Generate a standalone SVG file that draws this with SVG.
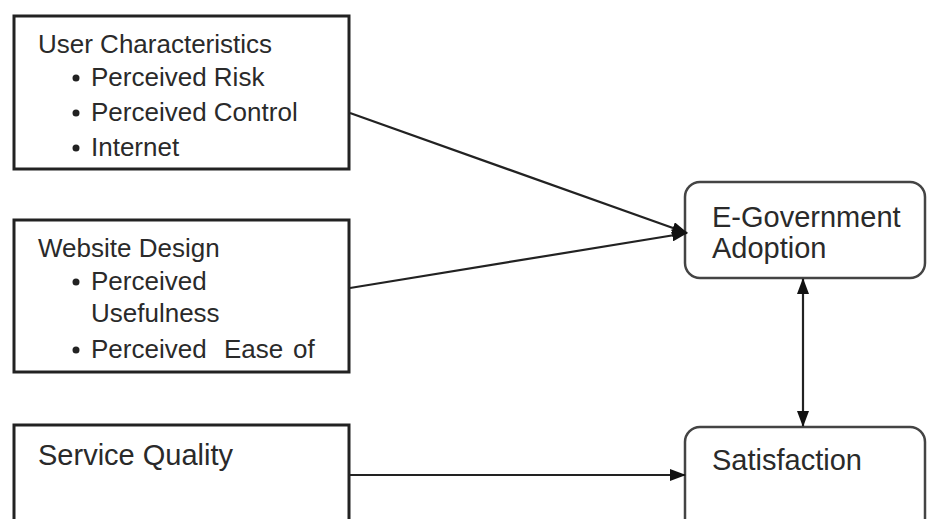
<svg xmlns="http://www.w3.org/2000/svg" width="927" height="519" viewBox="0 0 927 519">
<defs>
<marker id="ah" markerUnits="userSpaceOnUse" markerWidth="16" markerHeight="12" refX="15" refY="6" orient="auto-start-reverse" viewBox="0 0 16 12">
<path d="M0,0 L16,6 L0,12 Z" fill="#111"/>
</marker>
</defs>
<style>
.box{fill:#fff;stroke:#222;stroke-width:3}
.rbox{fill:#fff;stroke:#444;stroke-width:2.5}
.t{font-family:"Liberation Sans",Arial,sans-serif;fill:#2a2a2a}
.s{font-size:26px}
.l{font-size:29px}
.c{fill:none;stroke:#222;stroke-width:2.2}
</style>
<rect width="927" height="519" fill="#fff"/>
<g id="user-characteristics">
<rect class="box" x="14" y="16" width="335" height="153"/>
<text class="t s" x="38" y="53">User Characteristics</text>
<circle cx="76" cy="78" r="3.5" fill="#222"/>
<text class="t s" x="91" y="86">Perceived Risk</text>
<circle cx="76" cy="113" r="3.5" fill="#222"/>
<text class="t s" x="91" y="121">Perceived Control</text>
<circle cx="76" cy="148" r="3.5" fill="#222"/>
<text class="t s" x="91" y="156">Internet</text>
</g>
<g id="website-design">
<rect class="box" x="14" y="220" width="335" height="152"/>
<text class="t s" x="38" y="257">Website Design</text>
<circle cx="76" cy="282" r="3.5" fill="#222"/>
<text class="t s" x="91" y="290">Perceived</text>
<text class="t s" x="91" y="322">Usefulness</text>
<circle cx="76" cy="350" r="3.5" fill="#222"/>
<text class="t s" x="91" y="358">Perceived</text>
<text class="t s" x="224" y="358">Ease</text>
<text class="t s" x="293" y="358">of</text>
</g>
<g id="service-quality">
<rect class="box" x="14" y="425" width="335" height="110"/>
<text class="t l" x="38" y="465">Service Quality</text>
</g>
<g id="e-government-adoption">
<rect class="rbox" x="685" y="182" width="240" height="96" rx="15" ry="15"/>
<text class="t l" x="712" y="227">E-Government</text>
<text class="t l" x="712" y="258">Adoption</text>
</g>
<g id="satisfaction">
<rect class="rbox" x="685" y="427" width="240" height="110" rx="15" ry="15"/>
<text class="t l" x="712" y="470">Satisfaction</text>
</g>
<g id="connectors">
<line class="c" x1="350" y1="113" x2="687" y2="233" marker-end="url(#ah)"/>
<line class="c" x1="350" y1="288" x2="687" y2="233" marker-end="url(#ah)"/>
<line class="c" x1="350" y1="475" x2="685" y2="475" marker-end="url(#ah)"/>
<line class="c" x1="803" y1="279" x2="803" y2="426" marker-start="url(#ah)" marker-end="url(#ah)"/>
</g>
</svg>
